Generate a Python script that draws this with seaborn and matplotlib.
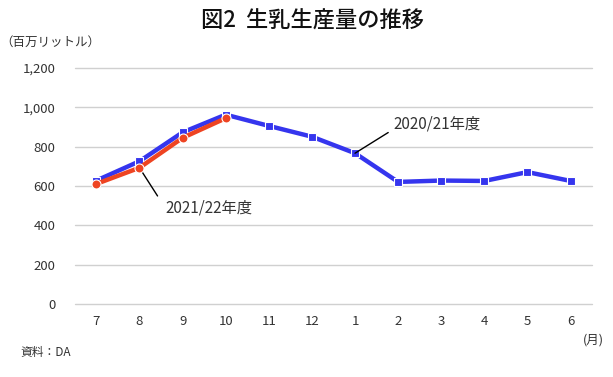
import pandas as pd
import matplotlib
matplotlib.use("Agg")
import matplotlib.pyplot as plt
import seaborn as sns

# データ
months = ["7", "8", "9", "10", "11", "12", "1", "2", "3", "4", "5", "6"]
fy2020 = [627, 725, 872, 962, 905, 850, 766, 620, 627, 625, 670, 625]
fy2021 = [610, 692, 844, 944]

sns.set_theme(style="whitegrid")
plt.rcParams["font.family"] = ["Noto Sans CJK JP", "DejaVu Sans"]

df20 = pd.DataFrame({"pos": range(len(fy2020)), "val": fy2020})
df21 = pd.DataFrame({"pos": range(len(fy2021)), "val": fy2021})

fig = plt.figure(figsize=(6.13, 3.77), dpi=100)
ax = fig.add_axes([0.122, 0.194, 0.844, 0.626])

sns.lineplot(data=df20, x="pos", y="val", ax=ax, color="#3535ee", lw=3.2,
             marker="s", markersize=6, markeredgecolor="white", markeredgewidth=0.8, zorder=3)
sns.lineplot(data=df21, x="pos", y="val", ax=ax, color="#ee4422", lw=3.2,
             marker="o", markersize=6.5, markeredgecolor="white", markeredgewidth=0.8, zorder=4)

ax.set_xlim(-0.5, 11.5)
ax.set_ylim(0, 1200)
ax.set_yticks(range(0, 1201, 200))
ax.set_yticklabels([f"{v:,}" for v in range(0, 1201, 200)])
ax.set_xticks(range(len(months)))
ax.set_xticklabels(months)
ax.tick_params(axis="both", labelsize=9.5, colors="#333333", length=0, pad=8)
ax.tick_params(axis="y", pad=14)
ax.grid(axis="x", visible=False)
ax.grid(axis="y", color="#d0d0d0", lw=1)
for gl in ax.get_ygridlines():
    gl.set_clip_on(False)
ax.set_facecolor("white")
for s in ax.spines.values():
    s.set_visible(False)
ax.set_xlabel("")
ax.set_ylabel("")

# 系列ラベル
ax.annotate("2020/21年度", xy=(6, fy2020[6]), xytext=(6.9, 915),
            fontsize=11, color="#333333", va="center", ha="left",
            arrowprops=dict(arrowstyle="-", color="black", lw=1, shrinkA=2, shrinkB=0,
                            relpos=(0, 0.2)))
ax.annotate("2021/22年度", xy=(1, fy2021[1]), xytext=(1.6, 487),
            fontsize=11, color="#333333", va="center", ha="left",
            arrowprops=dict(arrowstyle="-", color="black", lw=1, shrinkA=6, shrinkB=0,
                            relpos=(0, 0.5)))

fig.text(0.51, 0.945, "図2  生乳生産量の推移", ha="center", va="center",
         fontsize=16, fontweight="medium", color="#111111")
fig.text(0.0, 0.888, "（百万リットル）", ha="left", va="center", fontsize=9, color="#333333")
fig.text(0.951, 0.098, "(月)", ha="left", va="center", fontsize=9, color="#333333")
fig.text(0.033, 0.066, "資料：DA", ha="left", va="center", fontsize=8.5, color="#333333")

fig.savefig("out.png", dpi=100, facecolor="white")
